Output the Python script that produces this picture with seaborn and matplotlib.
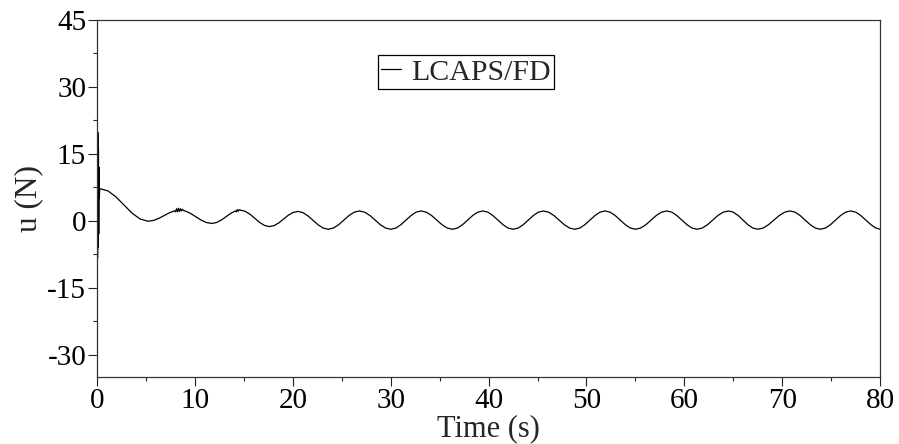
import numpy as np
import pandas as pd
import seaborn as sns
import matplotlib
matplotlib.use("Agg")
import matplotlib.pyplot as plt
from matplotlib.ticker import MultipleLocator

# control force, t in s, u in N
time_s = [0.0, 0.03, 0.06, 0.09, 0.12, 0.15, 0.18, 0.21, 0.25,
          1.08, 1.9, 2.73, 3.55, 4.38, 5.2,
          5.74, 6.28, 6.83, 7.37, 7.91, 8.0, 8.1, 8.2, 8.3, 8.4, 8.5, 8.6, 8.7, 8.8,
          8.99, 9.53, 10.08, 10.62, 11.16, 11.7,
          12.18, 12.67, 13.15, 13.63, 14.12, 14.2, 14.3, 14.4, 14.5, 14.6,
          15.1, 15.6, 16.1, 16.6, 17.1, 17.6,
          18.08, 18.57, 19.05, 19.53, 20.02, 20.5,
          21.02, 21.53, 22.05, 22.57, 23.08, 23.6,
          24.13, 24.67, 25.2, 25.73, 26.27, 26.8,
          27.33, 27.87, 28.4, 28.93, 29.47, 30.0,
          30.52, 31.03, 31.55, 32.07, 32.58, 33.1,
          33.63, 34.17, 34.7, 35.23, 35.77, 36.3,
          36.82, 37.33, 37.85, 38.37, 38.88, 39.4,
          39.92, 40.43, 40.95, 41.47, 41.98, 42.5,
          43.02, 43.53, 44.05, 44.57, 45.08, 45.6,
          46.13, 46.67, 47.2, 47.73, 48.27, 48.8,
          49.32, 49.83, 50.35, 50.87, 51.38, 51.9,
          52.42, 52.93, 53.45, 53.97, 54.48, 55.0,
          55.53, 56.07, 56.6, 57.13, 57.67, 58.2,
          58.72, 59.23, 59.75, 60.27, 60.78, 61.3,
          61.83, 62.37, 62.9, 63.43, 63.97, 64.5,
          65.0, 65.5, 66.0, 66.5, 67.0, 67.5,
          68.05, 68.6, 69.15, 69.7, 70.25, 70.8,
          71.32, 71.83, 72.35, 72.87, 73.38, 73.9,
          74.42, 74.93, 75.45, 75.97, 76.48, 77.0,
          77.52, 78.03, 78.55, 79.07, 79.58, 80.0]

u_n = [5.0, -8.3, 19.8, -6.0, 16.0, -3.0, 12.0, 5.0, 7.2,
       6.71, 5.38, 3.55, 1.72, 0.39, -0.1,
       0.07, 0.53, 1.15, 1.78, 2.23, 2.0, 2.7, 2.0, 2.8, 2.1, 2.7, 2.2, 2.6, 2.3,
       2.2, 1.65, 0.9, 0.15, -0.4, -0.6,
       -0.4, 0.15, 0.9, 1.65, 2.2, 2.0, 2.5, 2.1, 2.5, 2.4,
       2.15, 1.48, 0.55, -0.38, -1.05, -1.3,
       -1.07, -0.45, 0.4, 1.25, 1.87, 2.1,
       1.83, 1.1, 0.1, -0.9, -1.63, -1.9,
       -1.63, -0.88, 0.15, 1.18, 1.93, 2.2,
       1.93, 1.18, 0.15, -0.88, -1.63, -1.9,
       -1.63, -0.88, 0.15, 1.18, 1.93, 2.2,
       1.93, 1.18, 0.15, -0.88, -1.63, -1.9,
       -1.63, -0.88, 0.15, 1.18, 1.93, 2.2,
       1.93, 1.18, 0.15, -0.88, -1.63, -1.9,
       -1.63, -0.88, 0.15, 1.18, 1.93, 2.2,
       1.93, 1.18, 0.15, -0.88, -1.63, -1.9,
       -1.63, -0.88, 0.15, 1.18, 1.93, 2.2,
       1.93, 1.18, 0.15, -0.88, -1.63, -1.9,
       -1.63, -0.88, 0.15, 1.18, 1.93, 2.2,
       1.93, 1.18, 0.15, -0.88, -1.63, -1.9,
       -1.63, -0.88, 0.15, 1.18, 1.93, 2.2,
       1.93, 1.18, 0.15, -0.88, -1.63, -1.9,
       -1.63, -0.88, 0.15, 1.18, 1.93, 2.2,
       1.93, 1.18, 0.15, -0.88, -1.63, -1.9,
       -1.63, -0.88, 0.15, 1.18, 1.93, 2.2,
       1.93, 1.18, 0.15, -0.88, -1.63, -1.9]

series_name = "LCAPS/FD"
x_ticks = [0, 10, 20, 30, 40, 50, 60, 70, 80]
y_ticks = [-30, -15, 0, 15, 30, 45]

df = pd.DataFrame({"t": time_s, "u": u_n})

sns.set_style("ticks")
plt.rcParams["font.family"] = ["Liberation Serif", "DejaVu Serif"]
plt.rcParams["axes.unicode_minus"] = False

fig = plt.figure(figsize=(8.99, 4.44), dpi=100)
fig.subplots_adjust(left=0.1082, right=0.9789, top=0.955, bottom=0.151)
ax = fig.add_subplot(111)

sns.lineplot(data=df, x="t", y="u", sort=False, estimator=None,
             color="black", linewidth=0.9, label=series_name, ax=ax)

ax.set_xlim(0, 80)
ax.set_ylim(-35, 45)
ax.set_xticks(x_ticks)
ax.set_yticks(y_ticks)
ax.xaxis.set_minor_locator(MultipleLocator(5))
ax.yaxis.set_minor_locator(MultipleLocator(7.5))
ax.tick_params(which="major", direction="out", length=6.5, width=0.8,
               labelsize=21, pad=1.5, colors="#222222", labelcolor="black")
ax.tick_params(which="minor", direction="out", length=3, width=0.8, colors="#222222")

for s in ax.spines.values():
    s.set_visible(True)
    s.set_linewidth(0.9)
    s.set_color("#333333")

ax.set_xlabel("Time (s)", fontsize=22, labelpad=0)
ax.set_ylabel("u (N)", fontsize=22.5, labelpad=3)

leg = ax.legend(loc="center", bbox_to_anchor=(0.471, 0.854), fontsize=21.5,
                frameon=True, fancybox=False, framealpha=1, edgecolor="black",
                handlelength=0.65, handletextpad=0.35, borderpad=0.12,
                borderaxespad=0)
leg.get_frame().set_linewidth(0.9)

fig.savefig("out.png", dpi=100)
